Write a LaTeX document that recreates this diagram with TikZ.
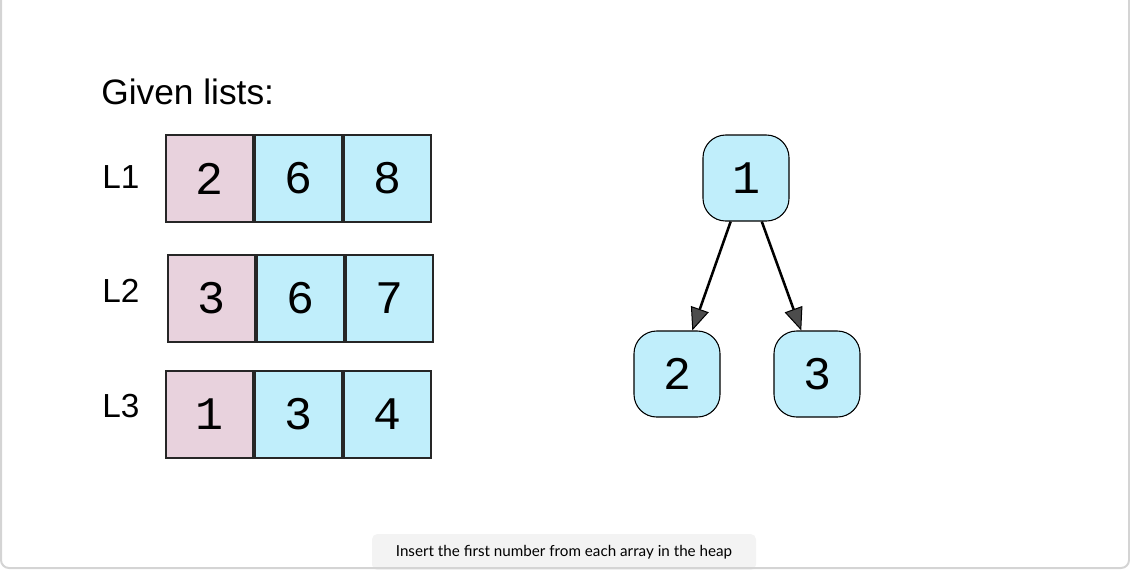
\documentclass[tikz,border=0pt]{standalone}
\usepackage{fontspec}
\setmainfont{Liberation Sans}
\newfontfamily\digitfont{Liberation Mono}
\newfontfamily\notefont{Lato}
\usepackage{tikz}
\usetikzlibrary{arrows.meta}
\pgfdeclarelayer{edgelayer}
\pgfdeclarelayer{nodelayer}
\pgfsetlayers{edgelayer,nodelayer,main}
\definecolor{cellblue}{HTML}{C0EEFB}
\definecolor{cellpink}{HTML}{E8D2DD}
\definecolor{framegray}{HTML}{D4D4D4}
\definecolor{notegray}{HTML}{F3F3F3}
\tikzstyle{cell}=[draw=black!85,line width=0.8pt,minimum size=65.25pt,inner sep=0pt,fill=cellblue,font=\digitfont\fontsize{35}{35}\selectfont]
\tikzstyle{head}=[cell,fill=cellpink]
\tikzstyle{listname}=[anchor=west,inner sep=0pt,font=\fontsize{25}{25}\selectfont]
\tikzstyle{heapnode}=[draw=black,line width=0.8pt,rounded corners=17pt,minimum size=64.5pt,inner sep=0pt,fill=cellblue,font=\digitfont\fontsize{35}{35}\selectfont]
\tikzstyle{transition}=[-{Triangle[length=17pt,width=14pt,line width=0.75pt,fill=black!70]},draw=black,line width=1.9pt]

\begin{document}
\begin{tikzpicture}[x=0.75pt,y=-0.75pt]
	\useasboundingbox (0,0) rectangle (1130,569);
	\draw [framegray,line width=1.5pt,rounded corners=6pt] (1,-20) rectangle (1129,568);
	\begin{pgfonlayer}{nodelayer}
		\node [anchor=base west,inner sep=0pt,font=\fontsize{26.5}{26.5}\selectfont] (title) at (101,104) {Given lists:};
		% lists
		\node [style=listname] (l1) at (102,177) {L1};
		\node [style=head] (a0) at (209.5,178.5) {2};
		\node [style=cell] (a1) at (298.5,178.5) {6};
		\node [style=cell] (a2) at (387.5,178.5) {8};
		\node [style=listname] (l2) at (102,291) {L2};
		\node [style=head] (b0) at (211.5,298.5) {3};
		\node [style=cell] (b1) at (300.5,298.5) {6};
		\node [style=cell] (b2) at (389.5,298.5) {7};
		\node [style=listname] (l3) at (102,406) {L3};
		\node [style=head] (c0) at (209.5,414.5) {1};
		\node [style=cell] (c1) at (298.5,414.5) {3};
		\node [style=cell] (c2) at (387.5,414.5) {4};
		% heap
		\node [style=heapnode] (0) at (746,178) {1};
		\node [style=heapnode] (1) at (677,374) {2};
		\node [style=heapnode] (2) at (817,374) {3};
		\node [fill=notegray,rounded corners=4pt,minimum width=288pt,minimum height=27pt,inner sep=0pt,font=\notefont\fontsize{11.4}{11.4}\selectfont] (note) at (564,552) {Insert the first number from each array in the heap};
	\end{pgfonlayer}
	\begin{pgfonlayer}{edgelayer}
		\draw [style=transition] (0) to (1);
		\draw [style=transition] (0) to (2);
	\end{pgfonlayer}
\end{tikzpicture}
\end{document}
